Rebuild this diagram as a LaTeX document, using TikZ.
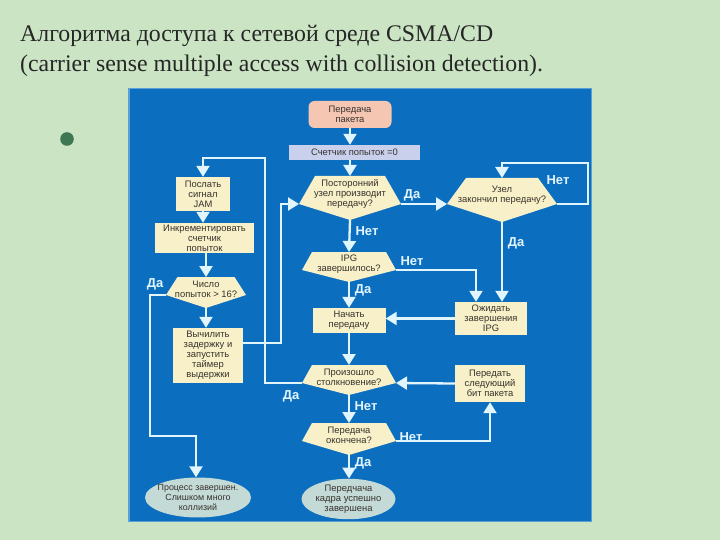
\documentclass[tikz,border=0pt]{standalone}
\usepackage{fontspec}
\setmainfont{Liberation Serif}
\newfontfamily\arial{Liberation Sans}
\usetikzlibrary{arrows.meta,shapes.geometric}

\definecolor{bg}{RGB}{202,228,196}
\definecolor{panel}{RGB}{12,110,190}
\definecolor{paneledge}{RGB}{90,160,215}
\definecolor{cream}{RGB}{248,240,200}
\definecolor{pinkf}{RGB}{245,198,178}
\definecolor{lav}{RGB}{200,208,236}
\definecolor{ellf}{RGB}{196,218,214}
\definecolor{wline}{RGB}{225,245,255}
\definecolor{ink}{RGB}{55,50,45}
\definecolor{bulletc}{RGB}{62,120,82}

\newcommand{\decis}[8]{%
  \fill[cream] (#2-#6,#3) -- (#2+#6,#3) -- (#2+#7,#4) -- (#2,#5) -- (#2-#7,#4) -- cycle;
  \coordinate (#1-t) at (#2,#3);
  \coordinate (#1-l) at (#2-#7,#4);
  \coordinate (#1-r) at (#2+#7,#4);
  \coordinate (#1-b) at (#2,#5);
  \node[dtext] (#1) at (#2,{(2*#3+#4+#5)/4}) {#8};
}

\begin{document}
\begin{tikzpicture}[x=1pt,y=-1pt,
  txt/.style={font=\arial\fontsize{9.4}{10.1}\selectfont, text=ink, align=center, inner sep=0pt},
  box/.style={txt, fill=cream},
  dtext/.style={txt},
  conn/.style={draw=wline, line width=2.3pt, -{Triangle[width=13pt,length=11pt]}},
  lab/.style={font=\arial\bfseries\fontsize{13}{15}\selectfont, text=wline, inner sep=0pt},
  title/.style={anchor=base west, inner sep=0pt, font=\fontsize{23.8}{28}\selectfont, text=black!85}
]
\useasboundingbox (0,0) rectangle (720,540);
\fill[bg] (0,0) rectangle (720,540);

% title
\node[title] (t1) at (20,42) {Алгоритма доступа к сетевой среде CSMA/CD};
\node[title] (t2) at (20,71.5) {(carrier sense multiple access with collision detection).};
\node[circle, fill=bulletc, minimum size=13.6pt, inner sep=0pt] (bul) at (67,139) {};

% panel
\fill[panel] (128,88) rectangle (592,522);
\draw[paneledge, line width=1.5pt] (128.75,88.75) rectangle (591.25,521.25);

% nodes
\node[txt, fill=pinkf, rounded corners=6pt, minimum width=83pt, minimum height=27pt] (pkt) at (350,114.5) {Передача\\пакета};
\node[txt, fill=lav, minimum width=131pt, minimum height=15pt] (cnt) at (354.5,152.5) {Счетчик попыток =0};

\decis{d1}{350}{176}{204}{220}{35}{51}{Посторонний\\узел производит\\передачу?}
\decis{d2}{502}{178}{204}{222}{36}{55}{Узел\\закончил передачу?}
\decis{d3}{349}{252}{270}{282}{37}{47}{IPG\\завершилось?}
\decis{d4}{206}{277}{295}{308}{28.5}{40}{Число\\попыток > 16?}
\decis{d5}{349}{365}{383}{395}{37}{47}{Произошло\\столкновение?}
\decis{d6}{349}{423}{441}{455}{37}{47}{Передача\\окончена?}

\node[box, minimum width=54pt, minimum height=34pt] (jam) at (203,194) {Послать\\сигнал\\JAM};
\node[box, minimum width=99pt, minimum height=30pt] (inc) at (204.5,238) {Инкрементировать\\счетчик\\попыток};
\node[box, minimum width=70pt, minimum height=55pt] (calc) at (208,355.5) {Вычилить\\задержку и\\запустить\\таймер\\выдержки};
\node[box, minimum width=73pt, minimum height=25pt] (begin) at (349,320.5) {Начать\\передачу};
\node[box, minimum width=72pt, minimum height=33pt] (wait) at (491,318.5) {Ожидать\\завершения\\IPG};
\node[box, minimum width=70pt, minimum height=37pt] (next) at (490,383.5) {Передать\\следующий\\бит пакета};

\node[txt, ellipse, fill=ellf, minimum width=106pt, minimum height=40pt, inner xsep=-7pt, inner ysep=0pt, font=\arial\fontsize{8.9}{10}\selectfont] (fail) at (198,497.5) {Процесс завершен.\\Слишком много\\коллизий};
\node[txt, ellipse, fill=ellf, minimum width=94pt, minimum height=37pt, inner xsep=-2pt, inner ysep=0pt] (ok) at (348.5,499) {Передчача\\кадра успешно\\завершена};

% helper coordinates
\coordinate (loopA) at (265,158);
\coordinate (loopB) at (281,204);
\coordinate (loopC) at (150,436);
\coordinate (loopD) at (588,163);

% connectors
\draw[conn] (pkt.south -| d1-t) -- (cnt.north -| d1-t);
\draw[conn] (cnt.south -| d1-t) -- (d1-t);
\draw[conn] (d1-r) -- (d2-l);
\draw[conn] (d1-b) -- (d3-t);
\draw[conn] (d2-r) -| (loopD) -| (d2-t);
\draw[conn] (d2-b) -- (d2-b |- wait.north);
\draw[conn] (d3-r) -| ([xshift=-15pt]wait.north);
\draw[conn] (d3-b) -- (begin.north);
\draw[conn] (wait.west) -- (wait.west -| begin.east);
\draw[conn] (begin.south) -- (d5-t);
\draw[conn] (d5-b) -- (d6-t);
\draw[conn] (d6-b) -- (d6-b |- ok.north);
\draw[conn] (d6-r) -| (next.south);
\draw[conn] (next.west) -- (d5-r);
\draw[conn] (d5-l) -| (loopA) -| (jam.north);
\draw[conn] ([yshift=12.5pt]calc.east) -| (loopB) -- (d1-l);
\draw[conn] (jam.south) -- (jam.south |- inc.north);
\draw[conn] (inc.south -| d4-t) -- (d4-t);
\draw[conn] (d4-b) -- (d4-b |- calc.north);
\draw[conn] (d4-l) -| (loopC) -| ([xshift=-2pt]fail.north);

% labels
\node[lab] (l1) at (412,195) {Да};
\node[lab] (l2) at (367,231) {Нет};
\node[lab] (l3) at (558,180) {Нет};
\node[lab] (l4) at (516,243) {Да};
\node[lab] (l5) at (412,261) {Нет};
\node[lab] (l6) at (363,290) {Да};
\node[lab] (l7) at (155,284) {Да};
\node[lab] (l8) at (291,396) {Да};
\node[lab] (l9) at (366,406) {Нет};
\node[lab] (l10) at (411,437) {Нет};
\node[lab] (l11) at (363,463) {Да};
\end{tikzpicture}
\end{document}
